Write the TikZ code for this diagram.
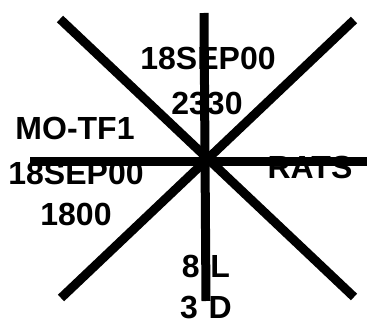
\documentclass[tikz,border=0pt]{standalone}
\usepackage{fontspec}
\setmainfont{Liberation Sans}
\begin{document}
\begin{tikzpicture}[x=1pt,y=-1pt,
  lbl/.style={font=\fontsize{32}{32}\selectfont\bfseries, inner sep=0pt, anchor=center},
  bar/.style={line width=9pt, line cap=butt}]
\useasboundingbox (0,0) rectangle (367,326);
% labels
\node[lbl] (t1) at (208,58) {18SEP00};
\node[lbl] (t2) at (207,104) {2330};
\node[lbl] (l1) at (75,128) {MO-TF1};
\node[lbl] (l2) at (76,173) {18SEP00};
\node[lbl] (l3) at (76,214) {1800};
\node[lbl] (r1) at (310,167) {RATS};
\node[lbl] (b1) at (206,266) {8\,\,L};
\node[lbl] (b2) at (206,308) {3\,\,D};
% line end points
\coordinate (vt) at (204,13);
\coordinate (vb) at (206,301);
\coordinate (hl) at (30,162);
\coordinate (hr) at (367,162);
\coordinate (d1a) at (60,19);
\coordinate (d1b) at (354,297);
\coordinate (d2a) at (354,20);
\coordinate (d2b) at (61,298);
\draw[bar] (vt) -- (vb);
\draw[bar] (hl) -- (hr);
\draw[bar] (d1a) -- (d1b);
\draw[bar] (d2a) -- (d2b);
\end{tikzpicture}
\end{document}
